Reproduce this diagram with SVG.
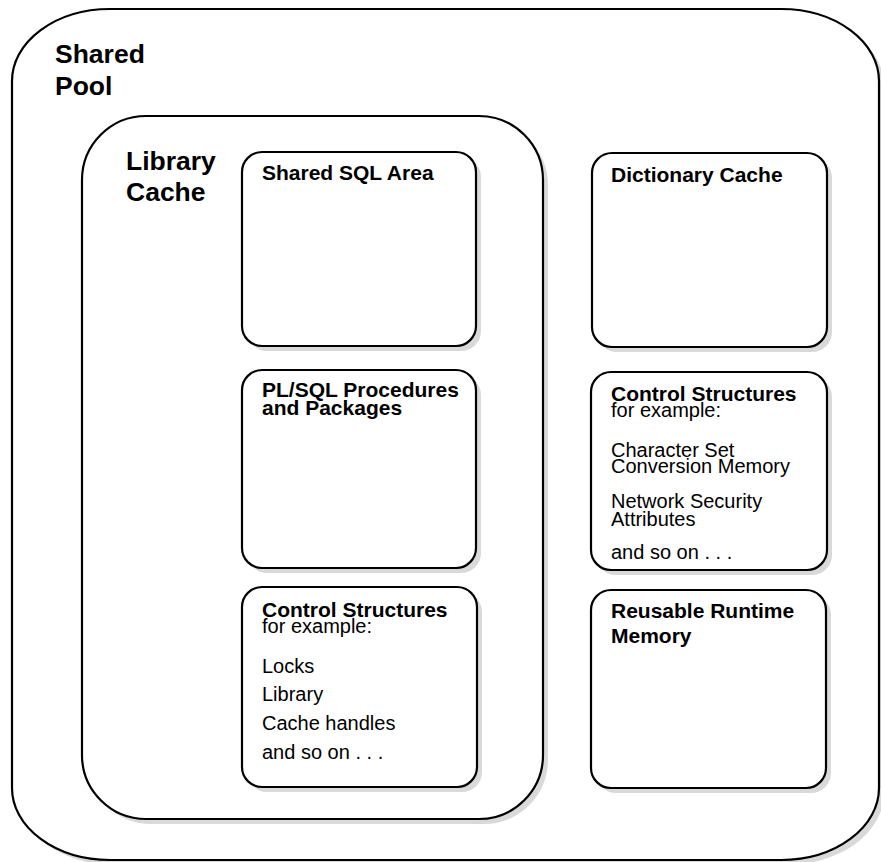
<svg xmlns="http://www.w3.org/2000/svg" width="881" height="862" viewBox="0 0 881 862">
<style>
.box{fill:#fff;stroke:#000;stroke-width:2.2}
.sh{fill:#d9d9d9}
.t{font-family:"Liberation Sans",Arial,sans-serif;fill:#000}
.big{font-size:26.5px;font-weight:bold}
.hd{font-size:21px;font-weight:bold}
.tx{font-size:20px}
</style>
<rect width="881" height="862" fill="#fff"/>
<g id="shared-pool">
<rect class="sh" x="17" y="14" width="867" height="851" rx="98" ry="72"/>
<rect class="box" x="12" y="9" width="867" height="851" rx="98" ry="72"/>
<text class="t big" x="55" y="63">Shared</text>
<text class="t big" x="55" y="95">Pool</text>
</g>
<g id="library-cache">
<rect class="sh" x="87" y="121" width="461" height="703" rx="64" ry="64"/>
<rect class="box" x="82" y="116" width="461" height="703" rx="64" ry="64"/>
<text class="t big" x="126" y="170">Library</text>
<text class="t big" x="126" y="201">Cache</text>
</g>
<g id="shared-sql-area">
<rect class="sh" x="247" y="157" width="234" height="194" rx="20"/>
<rect class="box" x="242" y="152" width="234" height="194" rx="20"/>
<text class="t hd" x="262" y="180">Shared SQL Area</text>
</g>
<g id="plsql">
<rect class="sh" x="247" y="375" width="234" height="198" rx="20"/>
<rect class="box" x="242" y="370" width="234" height="198" rx="20"/>
<text class="t hd" x="262" y="397">PL/SQL Procedures</text>
<text class="t hd" x="262" y="415">and Packages</text>
</g>
<g id="control-left">
<rect class="sh" x="247" y="592" width="235" height="200" rx="20"/>
<rect class="box" x="242" y="587" width="235" height="200" rx="20"/>
<text class="t hd" x="262" y="617">Control Structures</text>
<text class="t tx" x="262" y="633">for example:</text>
<text class="t tx" x="262" y="673">Locks</text>
<text class="t tx" x="262" y="701">Library</text>
<text class="t tx" x="262" y="730">Cache handles</text>
<text class="t tx" x="262" y="759">and so on . . .</text>
</g>
<g id="dictionary-cache">
<rect class="sh" x="597" y="158" width="235" height="194" rx="20"/>
<rect class="box" x="592" y="153" width="235" height="194" rx="20"/>
<text class="t hd" x="611" y="182">Dictionary Cache</text>
</g>
<g id="control-right">
<rect class="sh" x="596" y="377" width="236" height="198" rx="20"/>
<rect class="box" x="591" y="372" width="236" height="198" rx="20"/>
<text class="t hd" x="611" y="401">Control Structures</text>
<text class="t tx" x="611" y="417">for example:</text>
<text class="t tx" x="611" y="457">Character Set</text>
<text class="t tx" x="611" y="473">Conversion Memory</text>
<text class="t tx" x="611" y="508">Network Security</text>
<text class="t tx" x="611" y="526">Attributes</text>
<text class="t tx" x="611" y="559">and so on . . .</text>
</g>
<g id="reusable-runtime-memory">
<rect class="sh" x="596" y="595" width="235" height="198" rx="20"/>
<rect class="box" x="591" y="590" width="235" height="198" rx="20"/>
<text class="t hd" x="611" y="618">Reusable Runtime</text>
<text class="t hd" x="611" y="643">Memory</text>
</g>
<g id="connectors"></g>
</svg>
